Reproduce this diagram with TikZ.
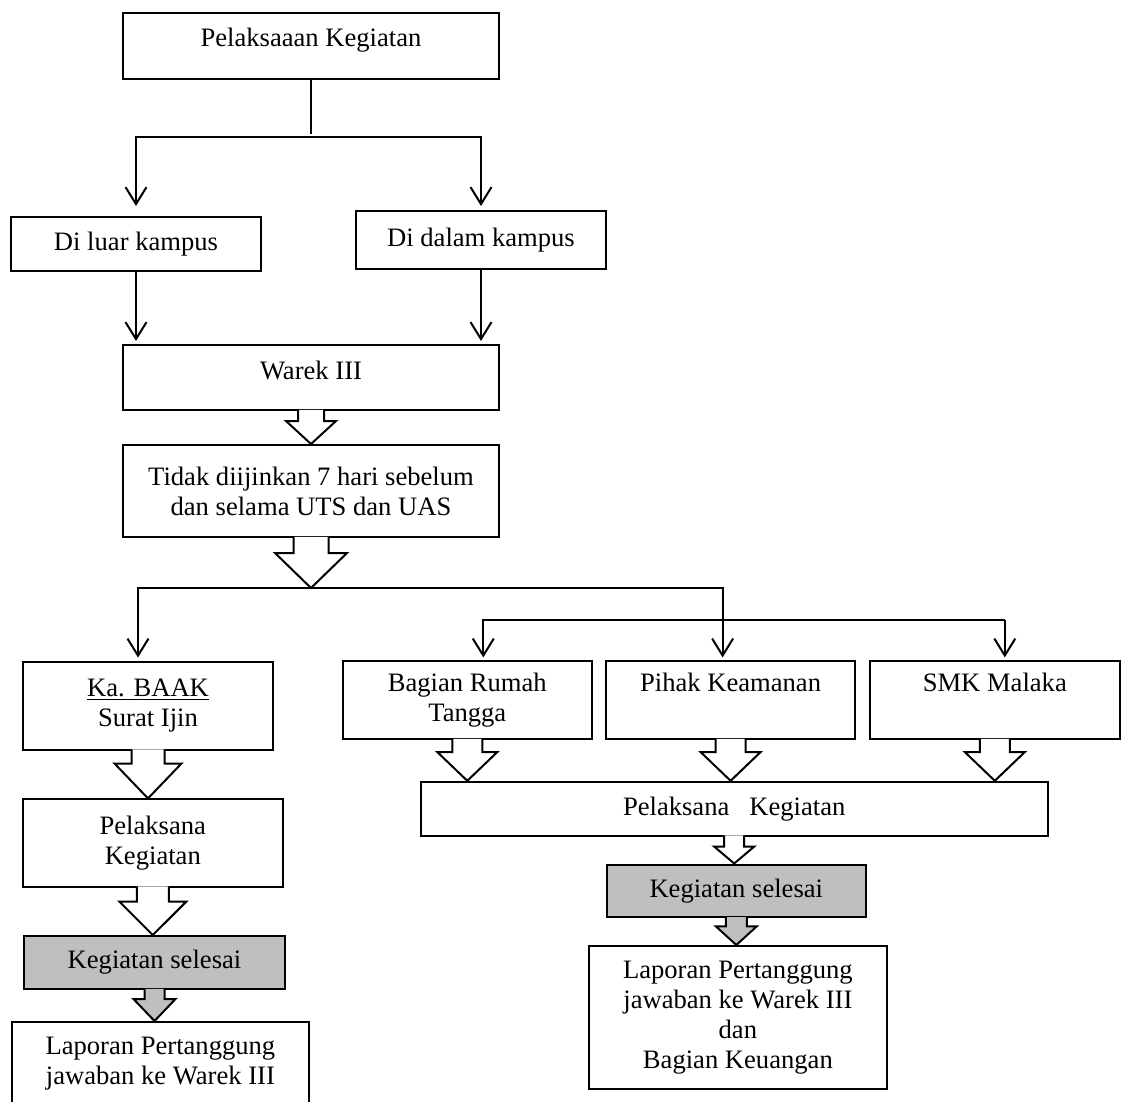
\documentclass[tikz,border=0pt]{standalone}
\usepackage{fontspec}
\setmainfont{Liberation Serif}
\usetikzlibrary{arrows.meta,calc}
\usepackage{xcolor}
\definecolor{abu}{RGB}{191,191,191}

\tikzset{
	kotak/.style={draw,line width=1pt,inner sep=0pt,align=center},
}
\newcommand{\panah}[6][white]{%
	\draw[line width=1pt,fill=#1] ($(#2)+(-#5,-1.2)$) -- ++(0,#4+1.2) -- ++(#5-#6,0)
		-- (#2 |- #3) -- ($(#2)+(#6,#4)$) -- ++(#5-#6,0) -- ++(0,-#4-1.2);}

\begin{document}
\begin{tikzpicture}[x=0.5pt,y=-0.5pt,>={Straight Barb[length=8.5pt,width=10.5pt]},
	font=\fontsize{13.3}{15}\selectfont]
	\useasboundingbox (0,0) rectangle (1121,1102);
	\node[kotak,minimum width=188.2pt,minimum height=33.2pt,text depth=8.4pt] (atas) at (311,46) {Pelaksaaan Kegiatan};
	\node[kotak,minimum width=125.2pt,minimum height=27pt] (luar) at (136,244) {Di luar kampus};
	\node[kotak,minimum width=125.2pt,minimum height=29pt] (dalam) at (481,240) {Di dalam kampus};
	\node[kotak,minimum width=188pt,minimum height=32.5pt,text depth=7.3pt] (warek) at (311,377.5) {Warek III};
	\node[kotak,minimum width=188pt,minimum height=46pt] (tidak) at (311,491) {Tidak diijinkan 7 hari sebelum\\dan selama UTS dan UAS};
	\node[kotak,minimum width=125pt,minimum height=44pt] (baak) at (148,705.5) {\underline{Ka. BAAK}\\Surat Ijin};
	\node[kotak,minimum width=130.2pt,minimum height=43.6pt] (pel1) at (152.8,843) {Pelaksana\\Kegiatan};
	\node[kotak,fill=abu,minimum width=130.5pt,minimum height=26.5pt] (sel1) at (154.5,962.5) {Kegiatan selesai};
	\node[kotak,minimum width=148.6pt,minimum height=42pt] (lap1) at (160.4,1064) {Laporan Pertanggung\\jawaban ke Warek III};
	\foreach \n/\x/\t/\d in {
			bag/467.3/{Bagian Rumah\\Tangga}/2.9pt,
			pihak/730.6/{Pihak Keamanan}/17.9pt,
			smk/994.8/{SMK Malaka}/17.9pt}
		\node[kotak,minimum width=124.8pt,minimum height=38.8pt,text depth=\d] (\n) at (\x,700.25) {\t};
	\node[kotak,minimum width=313.4pt,minimum height=26.9pt] (pel2) at (734.2,808.7) {Pelaksana~~~Kegiatan};
	\node[kotak,fill=abu,minimum width=129.8pt,minimum height=26.4pt] (sel2) at (736.3,890.9) {Kegiatan selesai};
	\node[kotak,minimum width=148.8pt,minimum height=71.5pt] (lap2) at (737.9,1017.5) {Laporan Pertanggung\\jawaban ke Warek III\\dan\\Bagian Keuangan};

	\coordinate (c1) at ($(atas.south)+(0,57)$);
	\coordinate (c2) at ($(tidak.south)+(0,50)$);
	\coordinate (c3) at (0,620);
	\begin{scope}[line width=1pt,shorten >=1.5pt]
		\draw (atas.south) -- (c1);
		\draw[->,shorten >=5pt] (c1) -| (luar.north);
		\draw[->,shorten >=2pt] (c1) -| (dalam.north);
		\draw[->] (luar.south) -- (luar.south |- warek.north);
		\draw[->] (dalam.south) -- (dalam.south |- warek.north);
		\draw[->] (c2) -| ([xshift=-5pt]baak.north);
		\draw[->] (c2) -| ([xshift=-4pt]pihak.north);
		\draw[->] ([xshift=5pt]smk.north |- c3) -| ([xshift=8pt]bag.north);
		\draw[->] ([xshift=5pt]smk.north |- c3) -- ([xshift=5pt]smk.north);
	\end{scope}

	\panah{warek.south}{tidak.north}{10}{13}{25}
	\panah{tidak.south}{c2}{15}{17.5}{36}
	\panah{baak.south}{pel1.north}{13}{16.5}{33.5}
	\panah{pel1.south}{sel1.north}{14}{16}{33.5}
	\panah[abu]{sel1.south}{lap1.north}{9}{10}{21}
	\foreach \n in {bag,pihak,smk}
		\panah{\n.south}{pel2.north}{12}{15}{30};
	\panah{pel2.south}{sel2.north}{10}{10}{20}
	\panah[abu]{sel2.south}{lap2.north}{8}{10.5}{20.5}
\end{tikzpicture}
\end{document}
